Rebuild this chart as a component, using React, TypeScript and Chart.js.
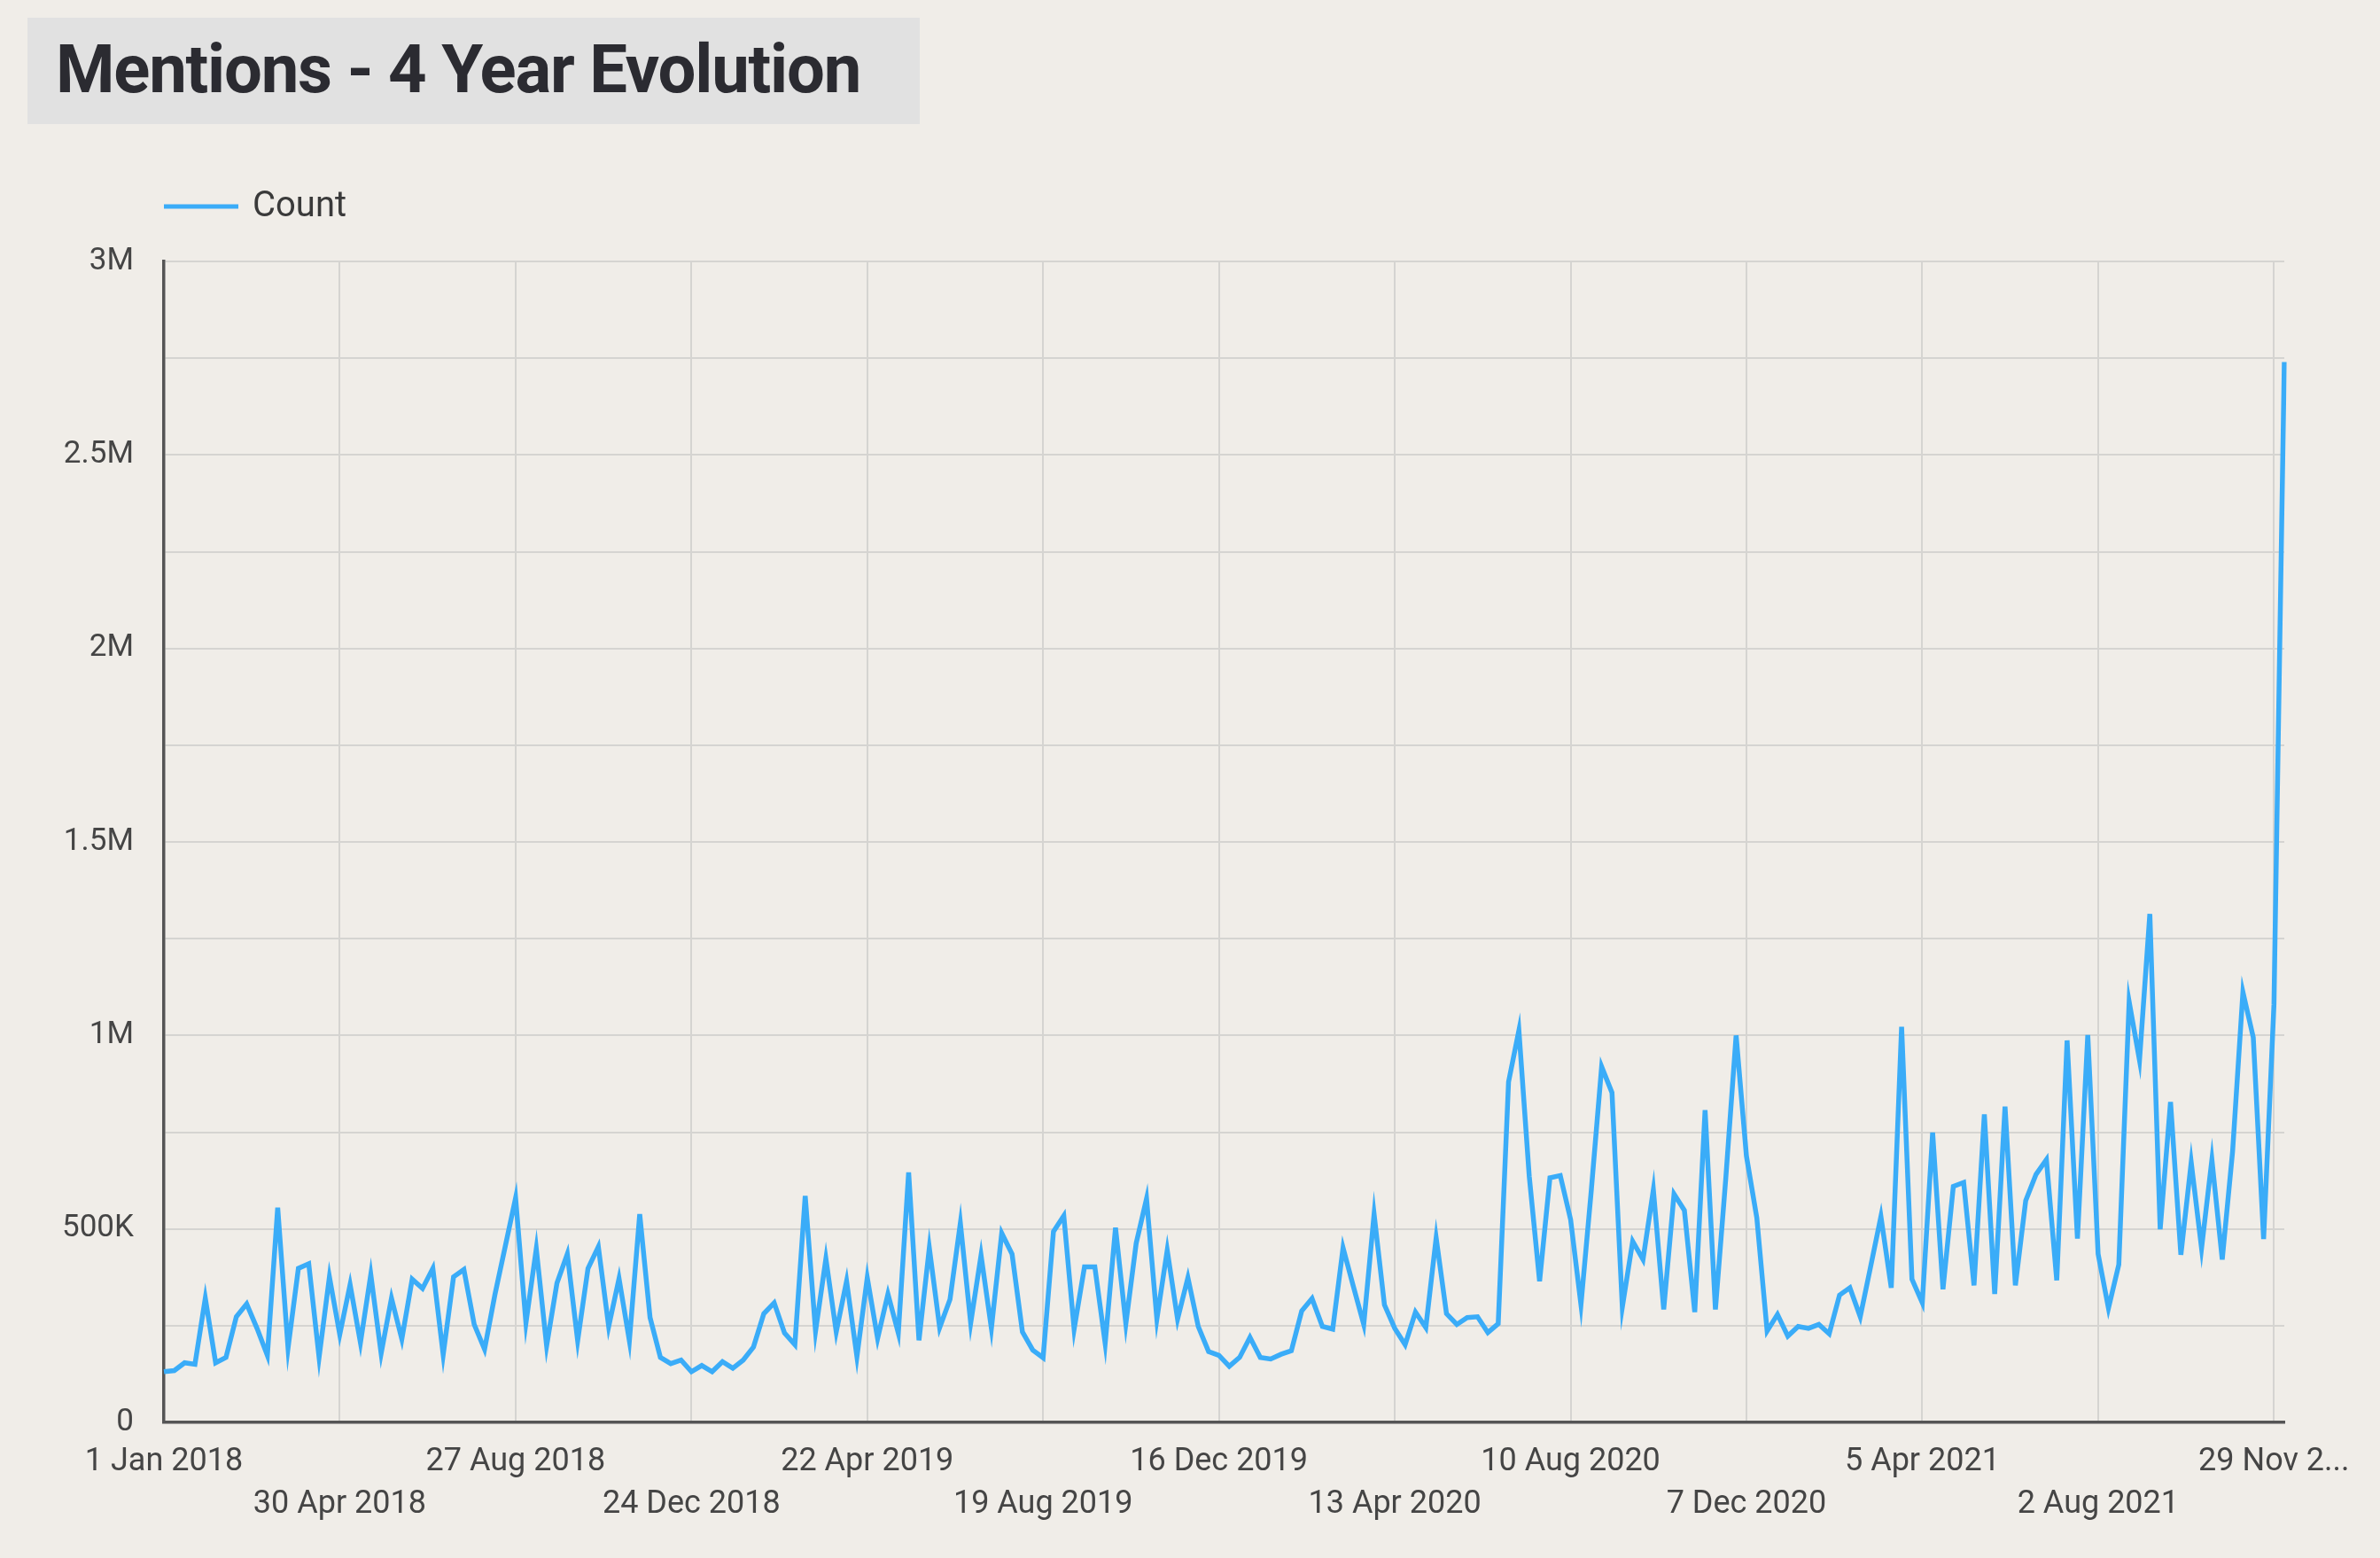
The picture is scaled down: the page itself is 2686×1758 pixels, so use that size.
import React, { useEffect, useRef } from 'react';
import { Chart, registerables } from 'chart.js';

Chart.register(...registerables);

// ---- data ----
const chartTitle = 'Mentions - 4 Year Evolution';
const seriesLabel = 'Count';
const firstWeek = { year: 2018, month: 0, day: 1 }; // weekly categories start (Mondays)
const tickEvery = 17; // a labelled tick every 17 weeks
const tickLabels = [
  '1 Jan 2018', '30 Apr 2018', '27 Aug 2018', '24 Dec 2018', '22 Apr 2019', '19 Aug 2019',
  '16 Dec 2019', '13 Apr 2020', '10 Aug 2020', '7 Dec 2020', '5 Apr 2021', '2 Aug 2021', '29 Nov 2...',
];
// weekly mention counts, in thousands
const countThousands = [
  131, 134, 154, 150, 321, 154, 168, 273, 306, 243, 173, 555, 192, 398, 410, 168, 376, 227, 356, 206,
  382, 178, 321, 215, 370, 346, 398, 175, 376, 395, 253, 189, 330, 455, 580, 257, 449, 198, 360, 435,
  211, 398, 454, 248, 372, 211, 538, 271, 168, 152, 161, 131, 147, 131, 157, 140, 161, 195, 281, 309,
  231, 201, 585, 236, 423, 234, 365, 170, 374, 217, 332, 231, 646, 212, 451, 245, 318, 515, 257, 432,
  243, 489, 435, 234, 187, 167, 493, 534, 241, 402, 402, 204, 503, 255, 463, 578, 267, 445, 267, 374,
  248, 183, 173, 145, 168, 220, 168, 164, 176, 185, 288, 320, 248, 241, 451, 351, 253, 538, 304, 243,
  201, 285, 245, 477, 281, 253, 271, 273, 232, 255, 880, 1013, 636, 365, 632, 638, 524, 304, 600, 919,
  852, 298, 468, 421, 601, 292, 590, 548, 285, 807, 292, 630, 1000, 688, 529, 236, 279, 223, 248, 243,
  253, 229, 329, 348, 273, 402, 532, 348, 1022, 370, 309, 749, 344, 610, 620, 354, 796, 332, 816, 354,
  573, 641, 679, 367, 987, 475, 1001, 435, 295, 408, 1087, 936, 1314, 499, 828, 433, 672, 450, 679, 421,
  700, 1112, 995, 474, 1080, 2740,
];
const yMax = 3000000;
const yStep = 250000;
const yLabelStep = 500000;

const MONTHS = ['Jan', 'Feb', 'Mar', 'Apr', 'May', 'Jun', 'Jul', 'Aug', 'Sep', 'Oct', 'Nov', 'Dec'];
const categories = countThousands.map((_, i) => {
  const d = new Date(Date.UTC(firstWeek.year, firstWeek.month, firstWeek.day + 7 * i));
  return `${d.getUTCDate()} ${MONTHS[d.getUTCMonth()]} ${d.getUTCFullYear()}`;
});
const counts = countThousands.map((v) => v * 1000);

// ---- style ----
const W = 2686;
const H = 1758;
const BG = '#f0ede8';
const GRID = '#d5d4d1';
const AXIS = '#555555';
const LINE = '#3aacf8';
const TEXT = '#454545';
const FONT = 'Roboto';

function formatY(v: number): string {
  if (v === 0) return '0';
  if (v >= 1000000) return `${v / 1000000}M`;
  return `${v / 1000}K`;
}

const legendPlugin = {
  id: 'lineLegend',
  afterDraw(chart: any) {
    const { ctx, chartArea } = chart;
    const ds = chart.data.datasets[0];
    const y = chartArea.top - 62;
    ctx.save();
    ctx.strokeStyle = ds.borderColor;
    ctx.lineWidth = 5;
    ctx.beginPath();
    ctx.moveTo(chartArea.left, y);
    ctx.lineTo(chartArea.left + 84, y);
    ctx.stroke();
    ctx.fillStyle = '#3a3a3a';
    ctx.font = `40px ${FONT}`;
    ctx.textBaseline = 'middle';
    ctx.textAlign = 'left';
    ctx.fillText(ds.label, chartArea.left + 100, y + 1);
    ctx.restore();
  },
};

export default function App() {
  const ref = useRef<HTMLCanvasElement>(null);

  useEffect(() => {
    if (!ref.current) return;
    const chart = new Chart(ref.current, {
      type: 'line',
      data: {
        labels: categories,
        datasets: [
          {
            label: seriesLabel,
            data: counts,
            borderColor: LINE,
            backgroundColor: LINE,
            borderWidth: 5.5,
            pointRadius: 0,
            tension: 0,
            fill: false,
          },
        ],
      },
      options: {
        animation: false,
        responsive: false,
        devicePixelRatio: 1,
        layout: { padding: { top: 295, right: 108, bottom: 0, left: 0 } },
        plugins: {
          legend: { display: false },
          tooltip: { enabled: false },
          title: { display: false },
        },
        scales: {
          x: {
            type: 'category',
            offset: false,
            afterFit: (s: any) => {
              s.height = 153;
            },
            grid: {
              drawTicks: false,
              lineWidth: 2,
              color: (c: any) => (c.index % tickEvery === 0 && c.index > 0 ? GRID : 'rgba(0,0,0,0)'),
            },
            border: { display: true, color: AXIS, width: 3.5 },
            ticks: {
              autoSkip: false,
              maxRotation: 0,
              minRotation: 0,
              padding: 21,
              color: TEXT,
              font: { family: FONT, size: 36, lineHeight: 1.34 },
              callback: (_v: any, i: number) => {
                if (i % tickEvery !== 0) return '';
                const k = i / tickEvery;
                const t = tickLabels[k] ?? '';
                return k % 2 === 0 ? [t, ''] : ['', t];
              },
            },
          },
          y: {
            min: 0,
            max: yMax,
            afterFit: (s: any) => {
              s.width = 185;
            },
            grid: {
              drawTicks: false,
              lineWidth: 2,
              color: (c: any) => (c.index === 0 ? 'rgba(0,0,0,0)' : GRID),
            },
            border: { display: true, color: AXIS, width: 3.5 },
            ticks: {
              stepSize: yStep,
              padding: 34,
              color: TEXT,
              font: { family: FONT, size: 35 },
              callback: (v: any) => (Number(v) % yLabelStep === 0 ? formatY(Number(v)) : ''),
            },
          },
        },
      },
      plugins: [legendPlugin],
    });
    return () => chart.destroy();
  }, []);

  return (
    <div style={{ position: 'fixed', left: 0, top: 0, width: W, height: H, background: BG, overflow: 'hidden' }}>
      <canvas ref={ref} width={W} height={H} style={{ position: 'absolute', left: 0, top: 0, width: W, height: H }} />
      <div
        style={{
          position: 'absolute',
          left: 31,
          top: 20,
          width: 1007,
          height: 120,
          background: '#e1e1e1',
          display: 'flex',
          alignItems: 'center',
          boxSizing: 'border-box',
          paddingLeft: 32,
          paddingBottom: 4,
          fontFamily: FONT,
          fontWeight: 700,
          fontSize: 76,
          letterSpacing: -1.2,
          color: '#2b2b31',
          whiteSpace: 'nowrap',
        }}
      >
        {chartTitle}
      </div>
    </div>
  );
}
